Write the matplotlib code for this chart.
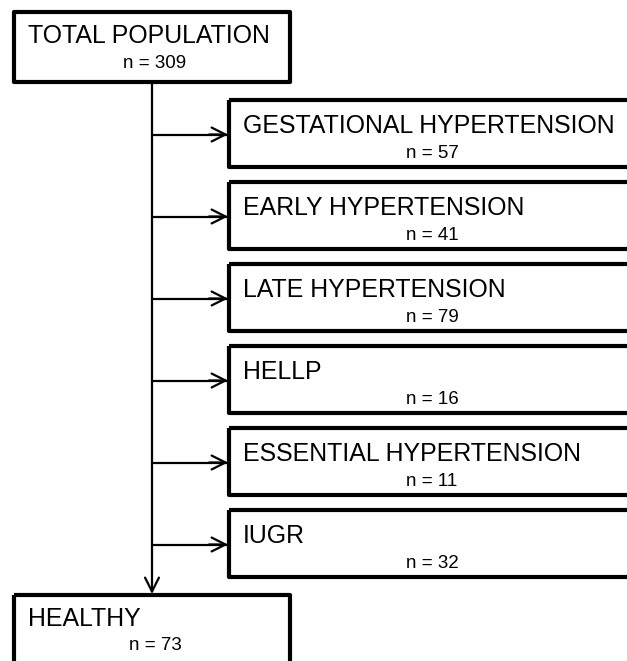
"""
Study flow chart: total population split into the diagnostic groups,
with whatever is left over ending up in the healthy box at the bottom.
"""

import matplotlib
matplotlib.use("Agg")
import matplotlib.pyplot as plt
from matplotlib.patches import Rectangle, FancyArrowPatch

plt.rcParams["font.family"] = ["Liberation Sans", "DejaVu Sans"]

total_label = "TOTAL POPULATION"
total_n = 309

group_labels = [
    "GESTATIONAL HYPERTENSION",
    "EARLY HYPERTENSION",
    "LATE HYPERTENSION",
    "HELLP",
    "ESSENTIAL HYPERTENSION",
    "IUGR",
]
group_n = [57, 41, 79, 16, 11, 32]

healthy_label = "HEALTHY"
healthy_n = 73

W, H = 627, 661
fig = plt.figure(figsize=(W / 100, H / 100), dpi=100)
ax = fig.add_axes([0, 0, 1, 1])
ax.set_xlim(0, W)
ax.set_ylim(H, 0)
ax.axis("off")

BOX_LW = 3.0
LINE_LW = 1.6
TITLE_FS = 17.9
N_FS = 13.5


def draw_box(x, y, w, h, label, n, n_x, label_dy=26, n_dy=54):
    ax.add_patch(Rectangle((x, y), w, h, fill=False, lw=BOX_LW,
                           edgecolor="black", joinstyle="round", clip_on=True))
    ax.text(x + 14, y + label_dy, label, fontsize=TITLE_FS, va="center", ha="left")
    ax.text(n_x, y + n_dy, f"n = {n}", fontsize=N_FS, va="center", ha="center")


def arrow(x0, y0, x1, y1):
    ax.add_patch(FancyArrowPatch((x0, y0), (x1, y1), arrowstyle="->,head_length=10,head_width=5",
                                 lw=LINE_LW, color="black", shrinkA=0, shrinkB=0,
                                 mutation_scale=1))


# top box
draw_box(14, 12, 276, 70, total_label, total_n, 155, label_dy=24, n_dy=52)

trunk_x = 152
left_x = 229
box_h = 67
step = 82
first_top = 100

# trunk down to the healthy box
healthy_top = 595
arrow(trunk_x, 82, trunk_x, healthy_top - 1)

for i, (lab, n) in enumerate(zip(group_labels, group_n)):
    top = first_top + i * step
    draw_box(left_x, top, 430, box_h, lab, n, 432)
    mid = top + box_h / 2 + 1
    ax.plot([trunk_x, left_x - 2], [mid, mid], color="black", lw=LINE_LW,
            solid_capstyle="butt")
    arrow(left_x - 20, mid, left_x - 1, mid)

draw_box(14, healthy_top, 276, 80, healthy_label, healthy_n, 155, label_dy=24, n_dy=51)

fig.savefig("out.png", dpi=100)
